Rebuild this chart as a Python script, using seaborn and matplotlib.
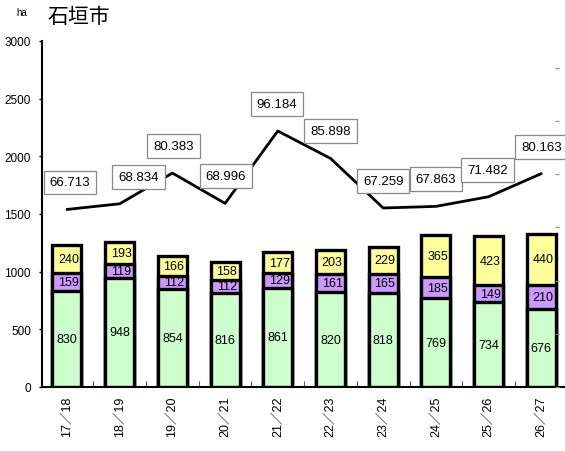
import numpy as np
import pandas as pd
import seaborn as sns
import matplotlib.pyplot as plt
from matplotlib.ticker import MultipleLocator, FixedLocator

# data
years = ['17／18', '18／19', '19／20', '20／21', '21／22',
         '22／23', '23／24', '24／25', '25／26', '26／27']
green = [830, 948, 854, 816, 861, 820, 818, 769, 734, 676]
purple = [159, 119, 112, 112, 129, 161, 165, 185, 149, 210]
yellow = [240, 193, 166, 158, 177, 203, 229, 365, 423, 440]
ratio = [66.713, 68.834, 80.383, 68.996, 96.184,
         85.898, 67.259, 67.863, 71.482, 80.163]

# label shift (pixels) for the line value boxes
label_dx = [3, 19, 1, 1, -1, 0, 0, 0, -1, 0]

sns.set_style('white')
plt.rcParams['font.family'] = ['Liberation Sans', 'Noto Sans CJK JP']
for key in ['text.color', 'xtick.color', 'ytick.color', 'axes.labelcolor']:
    plt.rcParams[key] = 'black'

df = pd.DataFrame({'year': years, 'green': green, 'purple': purple,
                   'yellow': yellow, 'ratio': ratio})
df['gp'] = df['green'] + df['purple']
df['total'] = df['gp'] + df['yellow']

fig = plt.figure(figsize=(5.65, 4.52), dpi=100)
ax = fig.add_axes([42 / 565, 1 - 388 / 452, 1 - 42 / 565, (388 - 42) / 452])

edge = dict(edgecolor='black', linewidth=2.4, width=0.55, saturation=1)
sns.barplot(data=df, x='year', y='total', color='#FFFF99', ax=ax, **edge)
sns.barplot(data=df, x='year', y='gp', color='#CC99FF', ax=ax, **edge)
sns.barplot(data=df, x='year', y='green', color='#CCFFCC', ax=ax, **edge)

for i in range(len(years)):
    ax.text(i, green[i] / 2, str(green[i]), ha='center', va='center', fontsize=9)
    ax.text(i + 0.03, green[i] + purple[i] / 2, str(purple[i]),
            ha='center', va='center', fontsize=9)
    ax.text(i + 0.03, green[i] + purple[i] + yellow[i] / 2, str(yellow[i]),
            ha='center', va='center', fontsize=9)

ax.set_xlim(-0.474, 9.45)
ax.set_ylim(0, 3000)
ax.yaxis.set_major_locator(MultipleLocator(500))
ax.set_xlabel('')
ax.set_ylabel('')
ax.tick_params(axis='y', length=2, width=1, pad=6, labelsize=8.5, left=True)
ax.tick_params(axis='x', which='major', length=0, pad=6, labelsize=9,
               labelrotation=90)
ax.xaxis.set_minor_locator(FixedLocator(np.arange(0.5, 9.5, 1)))
ax.tick_params(axis='x', which='minor', direction='in', length=4, width=0.8,
               bottom=True, color='#555555')
for s in ['top', 'right']:
    ax.spines[s].set_visible(False)
for s in ['left', 'bottom']:
    ax.spines[s].set_color('black')
    ax.spines[s].set_linewidth(1.5)

# secondary axis for the line
ax2 = ax.twinx()
sns.lineplot(x=np.arange(len(years)), y=ratio, ax=ax2, color='black',
             linewidth=2)
ax2.set_ylim(0, 130)
ax2.yaxis.set_major_locator(MultipleLocator(20))
ax2.set_yticklabels([])
ax2.spines['right'].set_position(('axes', 0.98))
for s in ['top', 'right', 'left', 'bottom']:
    ax2.spines[s].set_visible(False)
ax2.tick_params(axis='y', right=True, length=3, width=0.8, color='#888888')
ax2.set_xlim(-0.474, 9.45)

for i, v in enumerate(ratio):
    ax2.annotate(f'{v:.3f}', (i, v), xytext=(label_dx[i], 27),
                 textcoords='offset pixels', ha='center', va='center',
                 fontsize=9.5,
                 bbox=dict(boxstyle='square,pad=0.45', fc='white',
                           ec='#888888', lw=0.9))

fig.text(47 / 565, 1 - 17 / 452, '石垣市', fontsize=15,
         family=['Noto Sans CJK JP'], ha='left', va='center')
fig.text(22 / 565, 1 - 13 / 452, 'ha', fontsize=7, ha='center', va='center')

fig.savefig('out.png', dpi=100)
